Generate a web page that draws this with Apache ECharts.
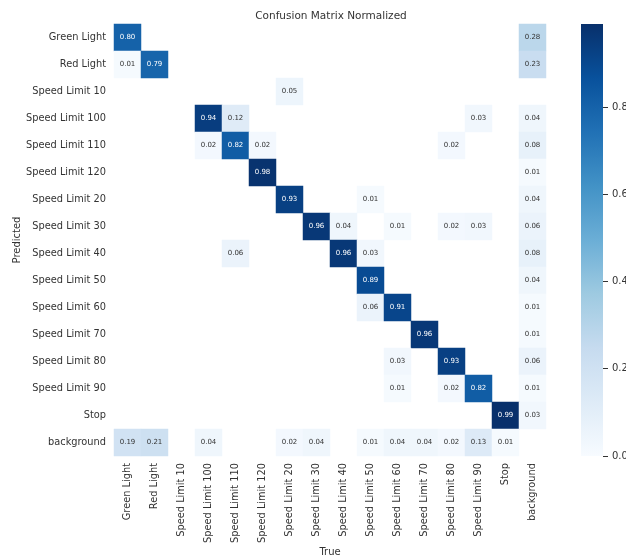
<!DOCTYPE html>
<html>
<head>
<meta charset="utf-8">
<script src="https://cdn.jsdelivr.net/npm/echarts@6/dist/echarts.min.js"></script>
<style>
  html, body { margin: 0; padding: 0; background: #fff; }
  #chart { width: 626px; height: 558px; }
</style>
</head>
<body>
<div id="chart"></div>
<script>
// class names, same order on both axes
const classes = [
  "Green Light", "Red Light", "Speed Limit 10", "Speed Limit 100",
  "Speed Limit 110", "Speed Limit 120", "Speed Limit 20", "Speed Limit 30",
  "Speed Limit 40", "Speed Limit 50", "Speed Limit 60", "Speed Limit 70",
  "Speed Limit 80", "Speed Limit 90", "Stop", "background"
];

// one row per predicted class, columns = true class (0 = empty cell)
const matrix = [
  [0.80, 0, 0, 0, 0, 0, 0, 0, 0, 0, 0, 0, 0, 0, 0, 0.28],
  [0.01, 0.79, 0, 0, 0, 0, 0, 0, 0, 0, 0, 0, 0, 0, 0, 0.23],
  [0, 0, 0, 0, 0, 0, 0.05, 0, 0, 0, 0, 0, 0, 0, 0, 0],
  [0, 0, 0, 0.94, 0.12, 0, 0, 0, 0, 0, 0, 0, 0, 0.03, 0, 0.04],
  [0, 0, 0, 0.02, 0.82, 0.02, 0, 0, 0, 0, 0, 0, 0.02, 0, 0, 0.08],
  [0, 0, 0, 0, 0, 0.98, 0, 0, 0, 0, 0, 0, 0, 0, 0, 0.01],
  [0, 0, 0, 0, 0, 0, 0.93, 0, 0, 0.01, 0, 0, 0, 0, 0, 0.04],
  [0, 0, 0, 0, 0, 0, 0, 0.96, 0.04, 0, 0.01, 0, 0.02, 0.03, 0, 0.06],
  [0, 0, 0, 0, 0.06, 0, 0, 0, 0.96, 0.03, 0, 0, 0, 0, 0, 0.08],
  [0, 0, 0, 0, 0, 0, 0, 0, 0, 0.89, 0, 0, 0, 0, 0, 0.04],
  [0, 0, 0, 0, 0, 0, 0, 0, 0, 0.06, 0.91, 0, 0, 0, 0, 0.01],
  [0, 0, 0, 0, 0, 0, 0, 0, 0, 0, 0, 0.96, 0, 0, 0, 0.01],
  [0, 0, 0, 0, 0, 0, 0, 0, 0, 0, 0.03, 0, 0.93, 0, 0, 0.06],
  [0, 0, 0, 0, 0, 0, 0, 0, 0, 0, 0.01, 0, 0.02, 0.82, 0, 0.01],
  [0, 0, 0, 0, 0, 0, 0, 0, 0, 0, 0, 0, 0, 0, 0.99, 0.03],
  [0.19, 0.21, 0, 0.04, 0, 0, 0.02, 0.04, 0, 0.01, 0.04, 0.04, 0.02, 0.13, 0.01, 0]
];

const colorbarTicks = [0, 0.2, 0.4, 0.6, 0.8];
const colorMax = 0.99;

// matplotlib "Blues"
const blues = ["#f7fbff", "#deebf7", "#c6dbef", "#9ecae1", "#6baed6",
               "#4292c6", "#2171b5", "#08519c", "#08306b"];

const font = "DejaVu Sans";
const textColor = "#333";

const cells = [];
matrix.forEach((row, y) => {
  row.forEach((v, x) => {
    if (v > 0) {
      cells.push({
        value: [x, y, v],
        label: { color: v > 0.5 ? "#fff" : textColor }
      });
    }
  });
});

// gradient for the colour bar, bottom (0) to top (max)
const barGradient = new echarts.graphic.LinearGradient(0, 1, 0, 0,
  blues.map((c, i) => ({ offset: i / (blues.length - 1), color: c })));

const chart = echarts.init(document.getElementById("chart"));

const option = {
  animation: false,
  textStyle: { fontFamily: font },
  title: {
    text: "Confusion Matrix Normalized",
    left: 326,
    textAlign: "center",
    top: 6,
    textStyle: { fontFamily: font, fontSize: 10.5, fontWeight: "normal", color: textColor }
  },
  grid: [
    { left: 114, top: 24, width: 432, height: 432, outerBoundsMode: "none" },
    { left: 581, top: 24, width: 22, height: 432, outerBoundsMode: "none" }
  ],
  xAxis: [
    {
      type: "category",
      data: classes,
      gridIndex: 0,
      name: "True",
      nameLocation: "middle",
      nameGap: 91,
      nameMoveOverlap: false,
      nameTextStyle: { fontFamily: font, fontSize: 10, color: textColor },
      axisLine: { show: false },
      axisTick: { show: false },
      splitLine: { show: false },
      axisLabel: { rotate: 90, fontSize: 9.8, color: textColor, margin: 7, interval: 0, fontFamily: font }
    },
    { type: "category", data: [""], gridIndex: 1, show: false }
  ],
  yAxis: [
    {
      type: "category",
      data: classes,
      inverse: true,
      gridIndex: 0,
      name: "Predicted",
      nameLocation: "middle",
      nameGap: 92,
      nameMoveOverlap: false,
      nameTextStyle: { fontFamily: font, fontSize: 10, color: textColor },
      axisLine: { show: false },
      axisTick: { show: false },
      splitLine: { show: false },
      axisLabel: { fontSize: 9.8, color: textColor, margin: 8, interval: 0, fontFamily: font }
    },
    {
      type: "value",
      gridIndex: 1,
      position: "right",
      min: 0,
      max: colorMax,
      axisLine: { show: false },
      splitLine: { show: false },
      axisTick: { show: true, length: 5, lineStyle: { color: textColor }, customValues: colorbarTicks },
      axisLabel: {
        fontSize: 10, color: textColor, margin: 9, fontFamily: font,
        customValues: colorbarTicks,
        formatter: (v) => v.toFixed(1)
      }
    }
  ],
  visualMap: {
    type: "continuous",
    show: false,
    seriesIndex: 0,
    min: 0,
    max: colorMax,
    inRange: { color: blues }
  },
  series: [
    {
      type: "heatmap",
      xAxisIndex: 0,
      yAxisIndex: 0,
      data: cells,
      label: {
        show: true,
        fontSize: 7,
        fontFamily: font,
        formatter: (p) => p.value[2].toFixed(2)
      },
      emphasis: { disabled: true }
    },
    {
      type: "bar",
      xAxisIndex: 1,
      yAxisIndex: 1,
      data: [colorMax],
      barWidth: "100%",
      silent: true,
      itemStyle: { color: barGradient }
    }
  ]
};

option && chart.setOption(option);
</script>
</body>
</html>
